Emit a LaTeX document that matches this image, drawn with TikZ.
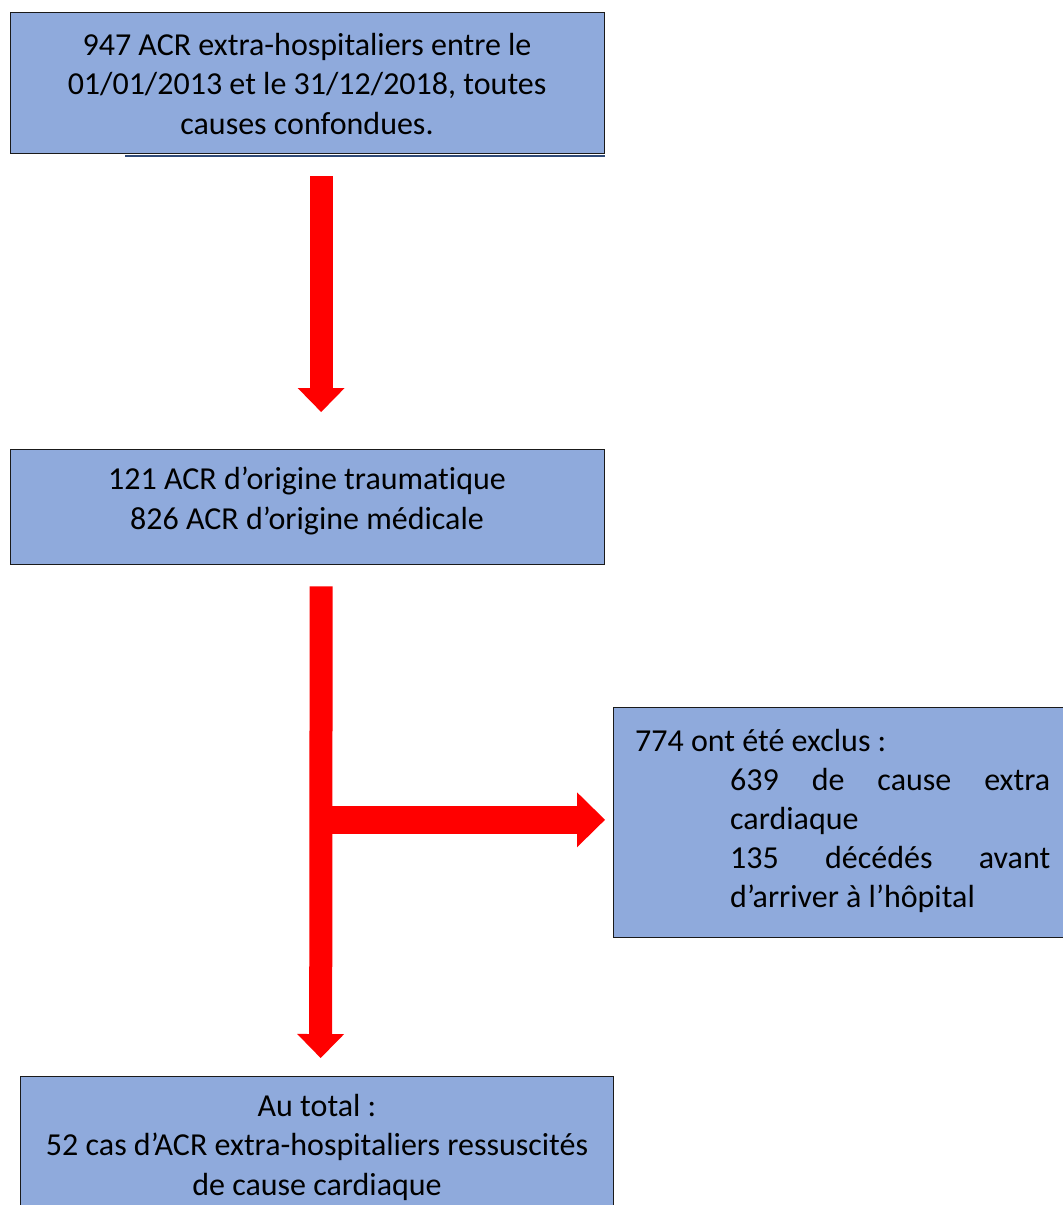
\documentclass[tikz,border=0pt]{standalone}
\usepackage{fontspec}
\setmainfont{Carlito}[Ligatures=NoCommon]
\usetikzlibrary{arrows.meta,calc}
\definecolor{boxblue}{HTML}{8FAADC}
\definecolor{boxline}{HTML}{1A1A1A}
\definecolor{shadowline}{HTML}{2F4A78}
\begin{document}
\begin{tikzpicture}[x=1pt,y=-1pt,
  box/.style={draw=boxline, fill=boxblue, line width=1.3pt, rectangle, inner sep=0pt, anchor=north west},
  txt/.style={font=\fontsize{32}{39.5}\selectfont, align=center, inner sep=0pt, text=black},
  ltxt/.style={font=\fontsize{32}{39.5}\selectfont, inner sep=0pt, anchor=base west, text=black},
  flowv/.style={draw=red, line width=23pt, -{Triangle[width=47pt,length=24pt,line width=0pt]}},
  flowh/.style={draw=red, line width=28pt, -{Triangle[width=55pt,length=28pt,line width=0pt]}}]
\useasboundingbox (0,0) rectangle (1063,1205);
\clip (0,0) rectangle (1063,1205);
% boxes
\node[box, minimum width=594pt, minimum height=141pt] (top) at (10,12) {};
\draw[shadowline, line width=2pt] ($(top.south west)+(115,2)$) coordinate (sh1) -- ($(top.south east)+(0,2)$) coordinate (sh2);
\node[box, minimum width=594pt, minimum height=115pt] (mid) at (10,449) {};
\node[box, minimum width=480pt, minimum height=230pt] (right) at (613,707) {};
\node[box, minimum width=593pt, minimum height=200pt] (bot) at (20,1076) {};
% texts
\node[txt] (toptxt) at (307,84) {947 ACR extra-hospitaliers entre le\\01/01/2013 et le 31/12/2018, toutes\\causes confondues.};
\node[txt] (midtxt) at (307,501) {121 ACR d’origine traumatique\\826 ACR d’origine médicale};
\node[ltxt] (r1) at (635,751) {774 ont été exclus :};
\node[ltxt] (r2) at (730,790) {\makebox[320pt][s]{639 de cause extra}};
\node[ltxt] (r3) at (730,829) {cardiaque};
\node[ltxt] (r4) at (730,868) {\makebox[320pt][s]{135 décédés avant}};
\node[ltxt] (r5) at (730,907) {d’arriver à l’hôpital};
\node[txt] (bottxt) at (317,1147) {Au total :\\52 cas d’ACR extra-hospitaliers ressuscités\\de cause cardiaque};
% arrows
\coordinate (a1s) at ($(top.south)+(13.5,22)$);
\coordinate (a1e) at ($(mid.north)+(13.5,-37)$);
\coordinate (a2s) at ($(mid.south)+(13.5,21)$);
\coordinate (a2e) at ($(bot.north)+(3.5,-18)$);
\coordinate (a3s) at ($(a2s)+(0,233.5)$);
\coordinate (a3e) at ($(right.west)+(-8,-3)$);
\draw[flowh] (a3s) -- (a3s -| a3e);
\draw[flowv] (a1s) -- (a1e);
\draw[flowv] (a2s) -- (a2e);
\end{tikzpicture}
\end{document}
